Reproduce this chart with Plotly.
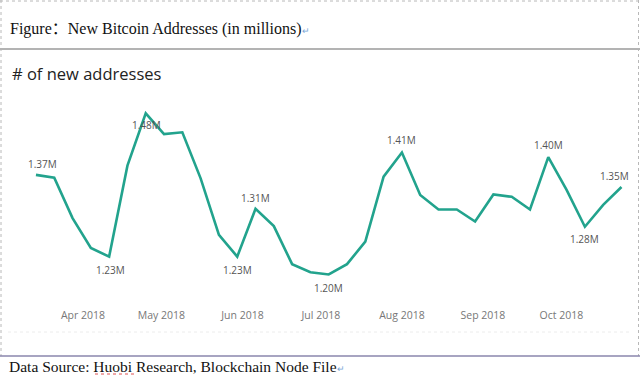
import plotly.graph_objects as go
import pandas as pd

# ---- data ----
dates = ["2018-03-14", "2018-03-21", "2018-03-28", "2018-04-04", "2018-04-11", "2018-04-18",
         "2018-04-25", "2018-05-02", "2018-05-09", "2018-05-16", "2018-05-23", "2018-05-30",
         "2018-06-06", "2018-06-13", "2018-06-20", "2018-06-27", "2018-07-04", "2018-07-11",
         "2018-07-18", "2018-07-25", "2018-08-01", "2018-08-08", "2018-08-15", "2018-08-22",
         "2018-08-29", "2018-09-05", "2018-09-12", "2018-09-19", "2018-09-26", "2018-10-03",
         "2018-10-10", "2018-10-17", "2018-10-24"]
new_addresses_m = [1.373, 1.368, 1.298, 1.246, 1.231, 1.389, 1.480, 1.444, 1.447, 1.367, 1.269,
                   1.231, 1.314, 1.284, 1.218, 1.204, 1.200, 1.218, 1.257, 1.370, 1.412, 1.338,
                   1.313, 1.313, 1.292, 1.339, 1.335, 1.313, 1.404, 1.347, 1.283, 1.321, 1.352]
labeled_points = [0, 4, 6, 11, 12, 16, 20, 28, 30, 32]
tick_months = ["2018-04-01", "2018-05-01", "2018-06-01", "2018-07-01",
               "2018-08-01", "2018-09-01", "2018-10-01"]

# ---- label placement (style) ----
label_shift = {0: (7, 11), 4: (1, -13), 6: (1, -12), 11: (0, -13), 12: (0, 11),
               16: (0, -13), 20: (0, 12), 28: (0, 12), 30: (0, -12), 32: (-7, 11)}

W, H = 640, 378
L, R, T, B = 20, 10, 95, 78
pw, ph = W - L - R, H - T - B

def px(x):
    return (x - L) / pw

def py(y):
    return (H - B - y) / ph

apr1 = pd.Timestamp("2018-04-01")
ppd = 2.614  # px per day
x0 = apr1 + pd.Timedelta(days=(L - 83) / ppd)
x1 = apr1 + pd.Timedelta(days=(W - R - 83) / ppd)

fig = go.Figure()
fig.add_trace(go.Scatter(
    x=dates, y=new_addresses_m, mode="lines",
    line=dict(color="#22A38D", width=2.6), hoverinfo="skip", showlegend=False))

annotations = []
for i in labeled_points:
    xs, ys = label_shift[i]
    annotations.append(dict(
        x=dates[i], y=new_addresses_m[i], xref="x", yref="y",
        text=f"{new_addresses_m[i]:.2f}M", showarrow=False,
        xshift=xs, yshift=ys, xanchor="center", yanchor="middle",
        font=dict(family="Open Sans", size=10, color="#555555")))

ret = "<span style='color:#7aa7d8;font-size:9px'>↵</span>"
annotations += [
    dict(x=px(8), y=py(27), xref="paper", yref="paper", xanchor="left", yanchor="middle",
         text="Figure<span style=\"font-family:'Noto Sans CJK SC'\">：</span>New Bitcoin Addresses (in millions)" + ret,
         showarrow=False, font=dict(family="Liberation Serif", size=16, color="#111111")),
    dict(x=px(10), y=py(74), xref="paper", yref="paper", xanchor="left", yanchor="middle",
         text="# of new addresses", showarrow=False,
         font=dict(family="Open Sans", size=16.5, color="#222222")),
    dict(x=px(7), y=py(366), xref="paper", yref="paper", xanchor="left", yanchor="middle",
         text="Data Source: Huobi Research, Blockchain Node File" + ret,
         showarrow=False, font=dict(family="Liberation Serif", size=15.5, color="#111111")),
]

line_dot = dict(color="#b8b8b8", width=1, dash="dot")
shapes = [
    dict(type="line", xref="paper", yref="paper", x0=px(0), x1=px(640), y0=py(1), y1=py(1), line=line_dot),
    dict(type="line", xref="paper", yref="paper", x0=px(1), x1=px(1), y0=py(0), y1=py(356), line=line_dot),
    dict(type="line", xref="paper", yref="paper", x0=px(638.5), x1=px(638.5), y0=py(0), y1=py(356), line=line_dot),
    dict(type="line", xref="paper", yref="paper", x0=px(0), x1=px(640), y0=py(49), y1=py(49),
         line=dict(color="#b3b3b3", width=2)),
    dict(type="line", xref="paper", yref="paper", x0=px(8), x1=px(630), y0=py(332), y1=py(332),
         line=dict(color="#ececec", width=1, dash="dot")),
    dict(type="line", xref="paper", yref="paper", x0=px(0), x1=px(640), y0=py(356), y1=py(356),
         line=dict(color="#8a86ad", width=1.5)),
    dict(type="line", xref="paper", yref="paper", x0=px(95), x1=px(136), y0=py(374), y1=py(374),
         line=dict(color="#e05050", width=1, dash="dot")),
]

fig.update_layout(
    width=W, height=H,
    margin=dict(l=L, r=R, t=T, b=B),
    paper_bgcolor="white", plot_bgcolor="white",
    annotations=annotations, shapes=shapes,
    xaxis=dict(type="date", range=[x0, x1], tickvals=tick_months, tickformat="%b %Y",
               showgrid=False, zeroline=False, showline=False,
               ticks="outside", ticklen=5, tickcolor="rgba(0,0,0,0)",
               tickfont=dict(family="Open Sans", size=10.5, color="#777777")),
    yaxis=dict(range=[1.1557, 1.5118], visible=False, showgrid=False, zeroline=False),
)

fig.write_html("out.html", config={"displayModeBar": False},
               post_script="document.body.style.margin='0';document.body.style.overflow='hidden';")
